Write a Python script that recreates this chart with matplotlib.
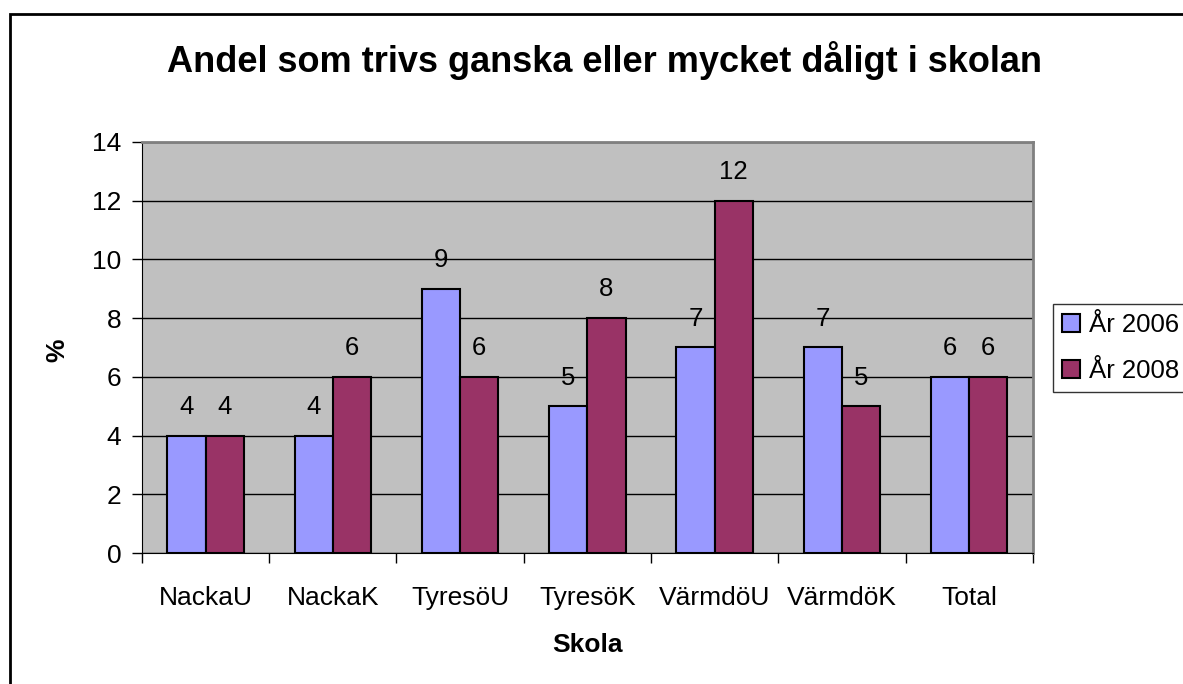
import matplotlib.pyplot as plt
import numpy as np
from matplotlib.patches import Rectangle

plt.rcParams['font.family'] = ['Liberation Sans', 'DejaVu Sans']

schools = ['NackaU', 'NackaK', 'TyresöU', 'TyresöK', 'VärmdöU', 'VärmdöK', 'Total']
y2006 = [4, 4, 9, 5, 7, 7, 6]
y2008 = [4, 6, 6, 8, 12, 5, 6]
series_names = ['År 2006', 'År 2008']
yticks = [0, 2, 4, 6, 8, 10, 12, 14]

fig = plt.figure(figsize=(11.83, 6.84), dpi=100)
ax = fig.add_axes([0.120, 0.1915, 0.753, 0.601])
ax.set_facecolor('#C0C0C0')

x = np.arange(len(schools))
w = 0.3
b1 = ax.bar(x - w / 2, y2006, w, color='#9999FF', edgecolor='black', linewidth=1.5,
            label=series_names[0], zorder=3)
b2 = ax.bar(x + w / 2, y2008, w, color='#993366', edgecolor='black', linewidth=1.5,
            label=series_names[1], zorder=3)
for bars in (b1, b2):
    ax.bar_label(bars, padding=12, fontsize=18.5)

ax.set_xlim(-0.5, len(schools) - 0.5)
ax.set_ylim(0, 14)
ax.set_yticks(yticks)
ax.yaxis.grid(True, color='black', linewidth=1)
ax.set_axisbelow(True)

ax.set_xticks(x)
ax.set_xticklabels(schools, fontsize=19)
ax.set_xticks(np.arange(len(schools) + 1) - 0.5, minor=True)
ax.tick_params(axis='x', which='major', length=0, pad=24)
ax.tick_params(axis='x', which='minor', length=7, width=1, color='black', direction='out')
ax.tick_params(axis='y', labelsize=19, length=7, width=1, pad=8)

for s in ('right', 'top'):
    ax.spines[s].set_color('#808080')
    ax.spines[s].set_linewidth(2)
ax.spines['bottom'].set_color('black')
ax.spines['left'].set_color('black')

ax.set_xlabel('Skola', fontsize=19, fontweight='bold', va='center')
ax.xaxis.set_label_coords(0.5, -0.224)
ax.set_ylabel('%', fontsize=19, fontweight='bold', va='center')
ax.yaxis.set_label_coords(-0.0954, 0.494)

fig.text(0.511, 0.912, 'Andel som trivs ganska eller mycket dåligt i skolan',
         ha='center', va='center', fontsize=26, fontweight='bold')

leg = fig.legend(handles=[b1, b2], loc='upper left', bbox_to_anchor=(0.890, 0.5556),
                 borderaxespad=0, fontsize=18.5, frameon=True, fancybox=False,
                 edgecolor='black', handlelength=0.7, handleheight=0.7,
                 handletextpad=0.35, borderpad=0.35, labelspacing=0.85)
leg.get_frame().set_linewidth(1)

fig.patches.append(Rectangle((10 / 1183, -0.1), 1.2, 1.1 - 14 / 684,
                             transform=fig.transFigure, fill=False,
                             edgecolor='black', linewidth=2))

fig.savefig('out.png', dpi=100)
